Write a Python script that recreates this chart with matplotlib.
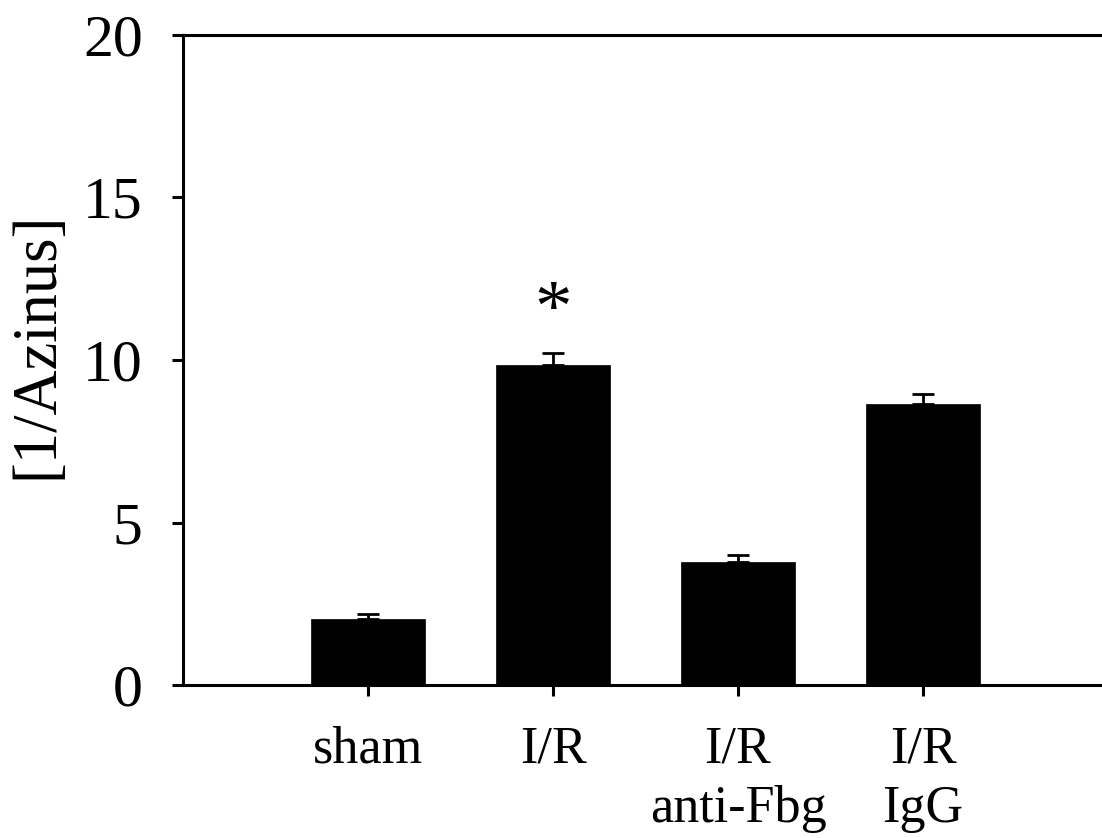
import matplotlib
matplotlib.use("Agg")
import matplotlib.pyplot as plt

categories = ["sham", "I/R", "I/R\nanti-Fbg", "I/R\nIgG"]
values = [2.03, 9.85, 3.78, 8.65]
errors = [0.15, 0.37, 0.22, 0.30]
yticks = [0, 5, 10, 15, 20]

plt.rcParams['font.family'] = ['Liberation Serif', 'DejaVu Serif']

W, H = 1102, 838
fig = plt.figure(figsize=(W / 100, H / 100), dpi=100)
ax = fig.add_axes([183 / W, (H - 685) / H, (1108 - 183) / W, 650 / H])

x = [1, 2, 3, 4]
ax.bar(x, values, width=0.62, color='black', edgecolor='black', linewidth=0.5)
ax.errorbar(x, values, yerr=[[0] * 4, errors], fmt='none', ecolor='black',
            elinewidth=2.0, capsize=8, capthick=2.0)

ax.text(2, 11.45, "*", ha='center', va='center', fontsize=54)

ax.set_xlim(0, 5)
ax.set_ylim(0, 20)
ax.set_xticks(x)
ax.set_xticklabels(categories, fontsize=37.5, linespacing=1.32)
ax.set_yticks(yticks)
ax.set_yticklabels([str(t) for t in yticks], fontsize=43)
ax.set_ylabel("[1/Azinus]", fontsize=45)
ax.yaxis.set_label_coords((66 - 183) / 925, (685 - 345) / 650)

for s in ['left', 'bottom', 'top']:
    ax.spines[s].set_linewidth(2.2)
ax.spines['right'].set_visible(False)
ax.tick_params(axis='both', direction='out', length=8, width=2.2)
ax.tick_params(axis='x', pad=21)
ax.tick_params(axis='y', pad=21)

fig.savefig("out.png", dpi=100)
